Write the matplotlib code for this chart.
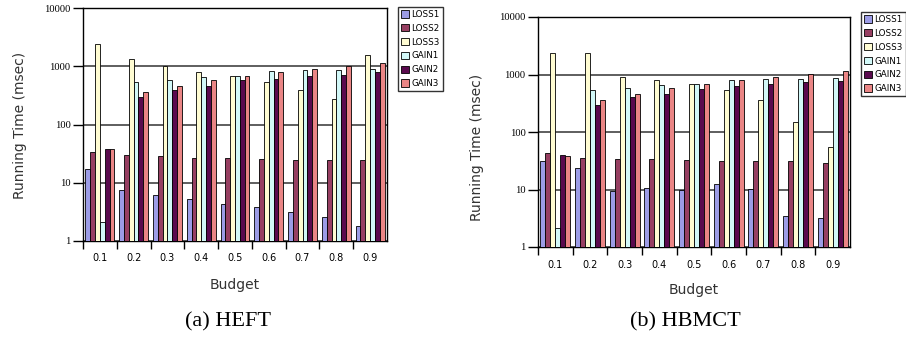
import matplotlib
matplotlib.use("Agg")
import matplotlib.pyplot as plt
import numpy as np
from matplotlib.ticker import FixedLocator, NullFormatter

budgets = ["0.1", "0.2", "0.3", "0.4", "0.5", "0.6", "0.7", "0.8", "0.9"]
series_names = ["LOSS1", "LOSS2", "LOSS3", "GAIN1", "GAIN2", "GAIN3"]
colors = ["#9c9ce6", "#973f62", "#fffcd2", "#d2f8f8", "#5a0a4e", "#ea8585"]

# (a) HEFT
heft_loss1 = [17.3, 7.5, 6.2, 5.3, 4.4, 3.8, 3.15, 2.6, 1.83]
heft_loss2 = [34, 30, 28.7, 27, 27, 25.5, 24.5, 24.5, 24.5]
heft_loss3 = [2450, 1350, 1000, 800, 684, 540, 385, 270, 1570]
heft_gain1 = [2.1, 540, 590, 655, 684, 830, 850, 875, 900]
heft_gain2 = [37.8, 296, 395, 465, 575, 615, 690, 720, 790]
heft_gain3 = [37.8, 366, 465, 590, 684, 790, 900, 1000, 1120]

# (b) HBMCT
hbmct_loss1 = [31, 24, 9.4, 10.8, 9.8, 12.3, 10.4, 3.5, 3.2]
hbmct_loss2 = [43, 36, 34, 34, 32, 31, 31, 31, 29.4]
hbmct_loss3 = [2400, 2400, 920, 800, 690, 546, 355, 149, 54]
hbmct_gain1 = [2.1, 546, 590, 660, 690, 795, 850, 850, 885]
hbmct_gain2 = [40, 300, 400, 465, 570, 620, 690, 740, 770]
hbmct_gain3 = [38, 363, 465, 590, 690, 795, 920, 1000, 1135]

y_ticks = [1, 10, 100, 1000, 10000]
y_tick_labels = ["1", "10", "100", "1000", "10000"]

W, H = 906, 337
fig = plt.figure(figsize=(W / 100, H / 100), dpi=100)


def px_axes(x0, x1, ytop, ybot):
    return fig.add_axes([x0 / W, 1 - ybot / H, (x1 - x0) / W, (ybot - ytop) / H])


def draw_panel(ax, data, xpad):
    n = len(budgets)
    bw = 0.143
    x = np.arange(n)
    start = 0.5 - bw * len(data) / 2 + bw / 2
    for k, (vals, c, name) in enumerate(zip(data, colors, series_names)):
        ax.bar(x + start + k * bw, vals, width=bw, bottom=0.0001, color=c,
               edgecolor="black", linewidth=0.6, label=name, zorder=3)
    ax.set_yscale("log")
    ax.set_ylim(1, 10000)
    ax.set_xlim(0, n)
    ax.yaxis.set_major_locator(FixedLocator(y_ticks))
    ax.set_yticklabels(y_tick_labels, fontfamily="Liberation Serif", fontsize=7.6)
    ax.yaxis.set_minor_locator(FixedLocator([]))
    ax.tick_params(axis="y", which="major", direction="out", length=7, width=1, pad=2)
    ax.xaxis.set_major_locator(FixedLocator(list(range(n))))
    ax.xaxis.set_major_formatter(NullFormatter())
    ax.xaxis.set_minor_locator(FixedLocator(list(x + 0.5)))
    ax.set_xticklabels(budgets, minor=True, fontsize=7)
    ax.tick_params(axis="x", which="major", direction="out", length=6, width=1)
    ax.tick_params(axis="x", which="minor", length=0, pad=xpad)
    ax.grid(axis="y", which="major", color="#333333", linewidth=1.1, zorder=0)
    ax.set_axisbelow(True)
    for s in ax.spines.values():
        s.set_color("black")
        s.set_linewidth(1.0)


ax1 = px_axes(83, 387, 8, 241)
draw_panel(ax1, [heft_loss1, heft_loss2, heft_loss3, heft_gain1, heft_gain2, heft_gain3], 8.5)
ax2 = px_axes(538, 850, 17, 247)
draw_panel(ax2, [hbmct_loss1, hbmct_loss2, hbmct_loss3, hbmct_gain1, hbmct_gain2, hbmct_gain3], 9.5)

for ax, (lx, ly) in [(ax1, (398, 7)), (ax2, (861, 12))]:
    h, l = ax.get_legend_handles_labels()
    leg = fig.legend(h, l, loc="upper left", bbox_to_anchor=(lx / W, 1 - ly / H),
                     fontsize=6.3, frameon=True, fancybox=False, edgecolor="black",
                     handlelength=0.85, handleheight=0.9, handletextpad=0.3,
                     labelspacing=0.55, borderpad=0.35, borderaxespad=0)
    leg.get_frame().set_linewidth(1.0)

# axis labels
fig.text(20 / W, 1 - 125 / H, "Running Time (msec)", rotation=90, ha="center", va="center",
         fontsize=10, color="#333333")
fig.text(477 / W, 1 - 147 / H, "Running Time (msec)", rotation=90, ha="center", va="center",
         fontsize=10, color="#333333")
fig.text(235 / W, 1 - 285 / H, "Budget", ha="center", va="center", fontsize=10, color="#333333")
fig.text(694 / W, 1 - 290 / H, "Budget", ha="center", va="center", fontsize=10, color="#333333")

# captions
fig.text(228 / W, 1 - 322 / H, "(a) HEFT", ha="center", va="center", fontsize=16,
         fontfamily="Liberation Serif")
fig.text(685 / W, 1 - 322 / H, "(b) HBMCT", ha="center", va="center", fontsize=16,
         fontfamily="Liberation Serif")

fig.savefig("out.png", dpi=100)
